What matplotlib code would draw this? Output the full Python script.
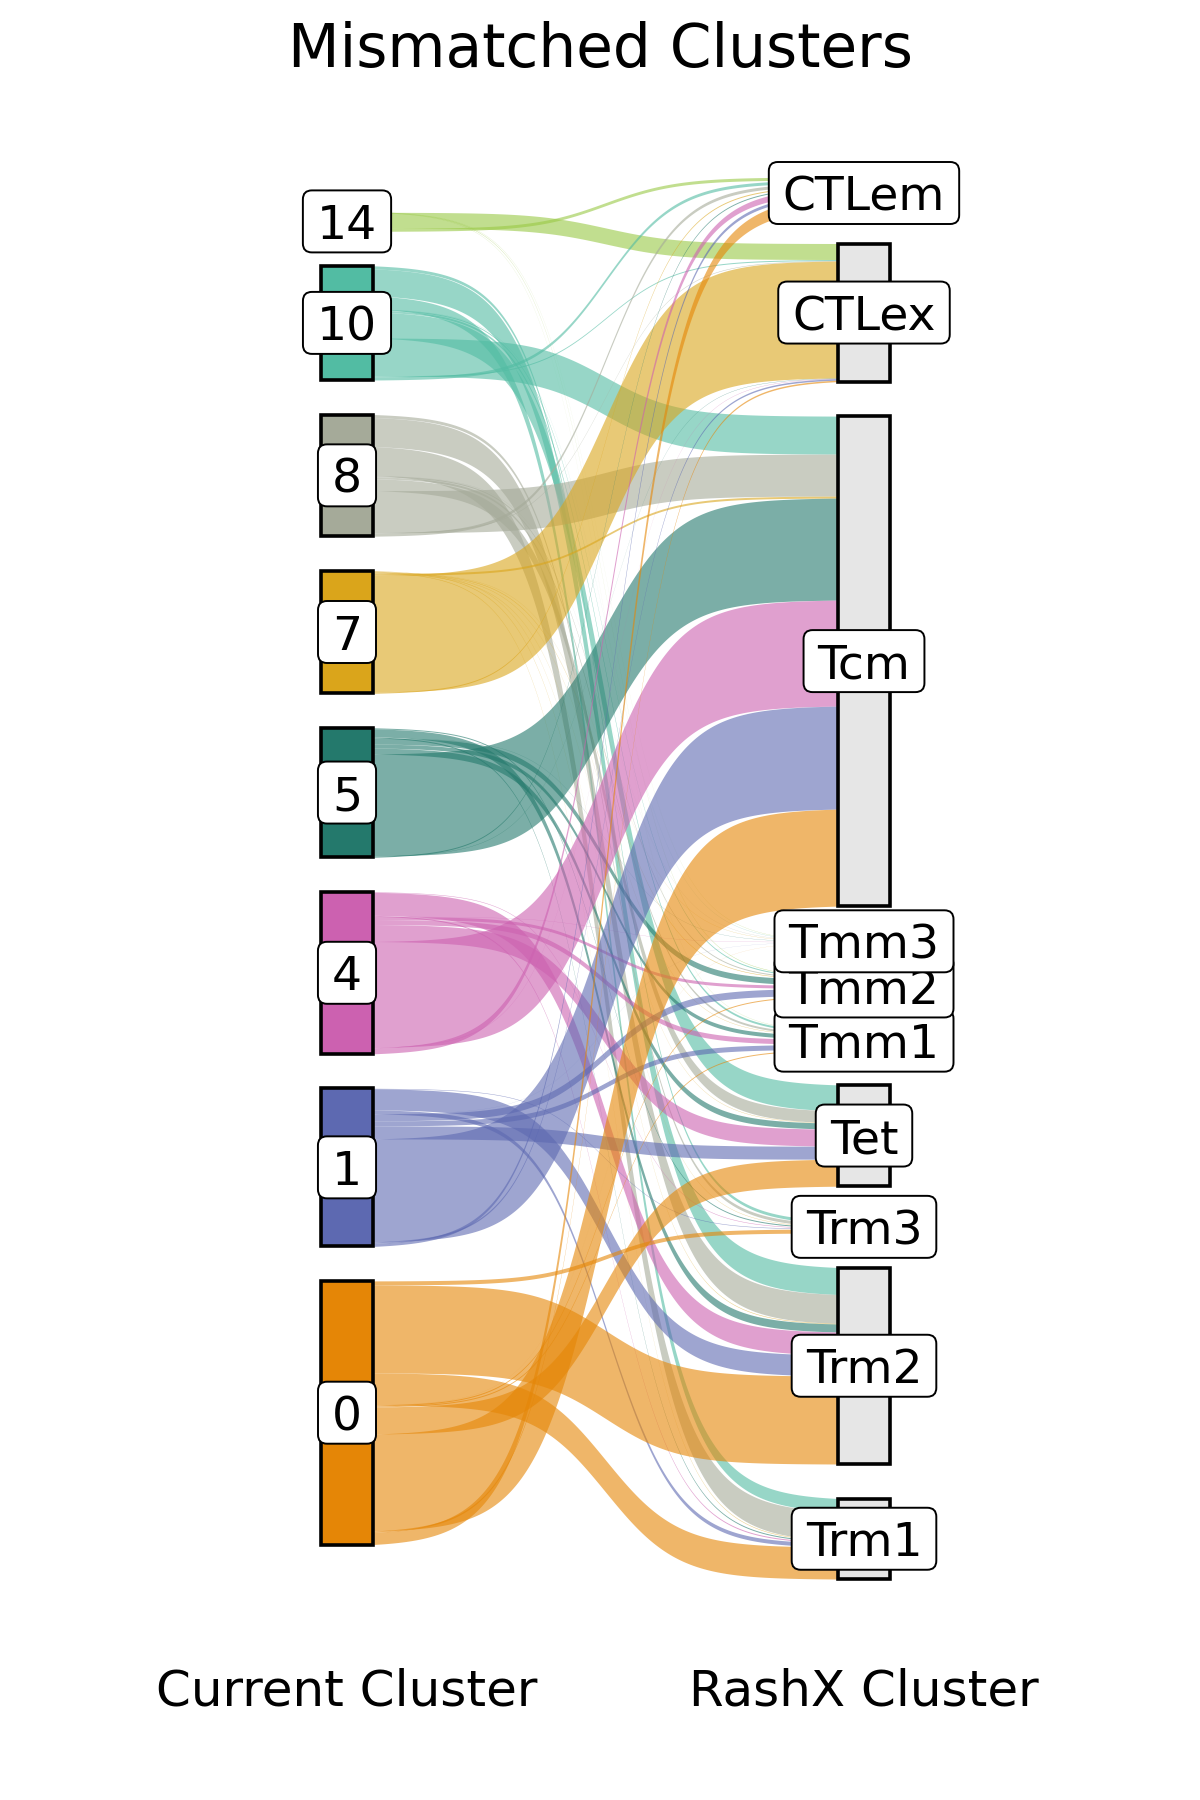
import numpy as np
import matplotlib.pyplot as plt
from matplotlib.patches import Rectangle, FancyBboxPatch

# clusters, top to bottom
current = ['14', '10', '8', '7', '5', '4', '1', '0']
rashx = ['CTLem', 'CTLex', 'Tcm', 'Tmm3', 'Tmm2', 'Tmm1', 'Tet', 'Trm3', 'Trm2', 'Trm1']
colors = ['#99C945', '#52BCA3', '#A5AA99', '#DAA51B', '#24796C', '#CC61B0', '#5D69B1', '#E58606']

# cells going from each current cluster to the RashX clusters (same order as rashx)
c14 = [3, 16, 0, 0.2, 0.4, 0.2, 0, 0, 0, 0]
c10 = [3, 1, 38, 0.2, 1, 2, 26, 3, 27, 13]
c8 = [3, 0.5, 42, 0.2, 1, 2, 12, 3, 29, 29]
c7 = [1, 117, 2, 0.2, 0.5, 0.3, 0.3, 0.3, 0.5, 0.5]
c5 = [1, 0.3, 102, 0.2, 6, 4, 6, 1, 8, 1]
c4 = [6, 0.3, 106, 0.2, 3, 5, 17, 0.5, 23, 1]
c1 = [3, 1.5, 103, 0.1, 7, 5, 13, 0.5, 21, 4]
c0 = [12, 1.5, 97, 0.1, 1, 1, 27, 4, 88, 32]

flows = np.array([c14, c10, c8, c7, c5, c4, c1, c0], dtype=float)

gap = 34.5
ymid = 878
xl0, xl1 = 321, 373
xr0, xr1 = 838, 890


def stack(sizes):
    tops = []
    y = ymid - (sum(sizes) + gap * (len(sizes) - 1)) / 2
    for s in sizes:
        tops.append(y)
        y += s + gap
    return np.array(tops)


left_tot = flows.sum(axis=1)
right_tot = flows.sum(axis=0)
left_top = stack(left_tot)
right_top = stack(right_tot)

fig = plt.figure(figsize=(12, 18), dpi=100)
ax = fig.add_axes([0, 0, 1, 1])
ax.set_xlim(0, 1200)
ax.set_ylim(1800, 0)
ax.axis('off')

# where each flow starts on the left (targets in reverse name order)
out_order = sorted(range(len(rashx)), key=lambda j: rashx[j], reverse=True)
lstart = np.zeros_like(flows)
for i in range(len(current)):
    y = left_top[i]
    for j in out_order:
        lstart[i, j] = y
        y += flows[i, j]
# where each flow ends on the right (sources in order)
rstart = np.zeros_like(flows)
for j in range(len(rashx)):
    y = right_top[j]
    for i in range(len(current)):
        rstart[i, j] = y
        y += flows[i, j]

x = np.linspace(xl1, xr0, 300)
u = (x - xl1) / (xr0 - xl1)
k = 13
s = 1 / (1 + np.exp(-k * (u - 0.5)))
s = (s - s[0]) / (s[-1] - s[0])

for i in range(len(current)):
    for j in range(len(rashx)):
        v = flows[i, j]
        if v <= 0:
            continue
        top = lstart[i, j] + (rstart[i, j] - lstart[i, j]) * s
        ax.fill_between(x, top, top + v, color=colors[i], alpha=0.6, lw=0, zorder=1)

for i, name in enumerate(current):
    ax.add_patch(Rectangle((xl0, left_top[i]), xl1 - xl0, left_tot[i],
                           fc=colors[i], ec='black', lw=2.6, zorder=3))
for j, name in enumerate(rashx):
    ax.add_patch(Rectangle((xr0, right_top[j]), xr1 - xr0, right_tot[j],
                           fc='#e6e6e6', ec='black', lw=2.6, zorder=3))

fig.canvas.draw()
renderer = fig.canvas.get_renderer()


def label(xc, yc, txt, z):
    t = ax.text(xc, yc, txt, ha='center', va='center_baseline', fontsize=34, zorder=z + 1)
    w = t.get_window_extent(renderer).width
    ax.add_patch(FancyBboxPatch((xc - w / 2 - 14, yc - 31), w + 28, 62,
                                boxstyle='round,pad=0,rounding_size=9',
                                fc='white', ec='black', lw=1.4, zorder=z))


n = len(rashx)
for i, name in enumerate(current):
    label((xl0 + xl1) / 2, left_top[i] + left_tot[i] / 2, name, 5 + 2 * (n - i))
for j, name in enumerate(rashx):
    label((xr0 + xr1) / 2, right_top[j] + right_tot[j] / 2, name, 5 + 2 * (n - j))

ax.text(600, 50, 'Mismatched Clusters', ha='center', va='center', fontsize=43)
ax.text((xl0 + xl1) / 2, 1692, 'Current Cluster', ha='center', va='center', fontsize=36)
ax.text((xr0 + xr1) / 2, 1692, 'RashX Cluster', ha='center', va='center', fontsize=36)

plt.savefig('out.png', dpi=100)
